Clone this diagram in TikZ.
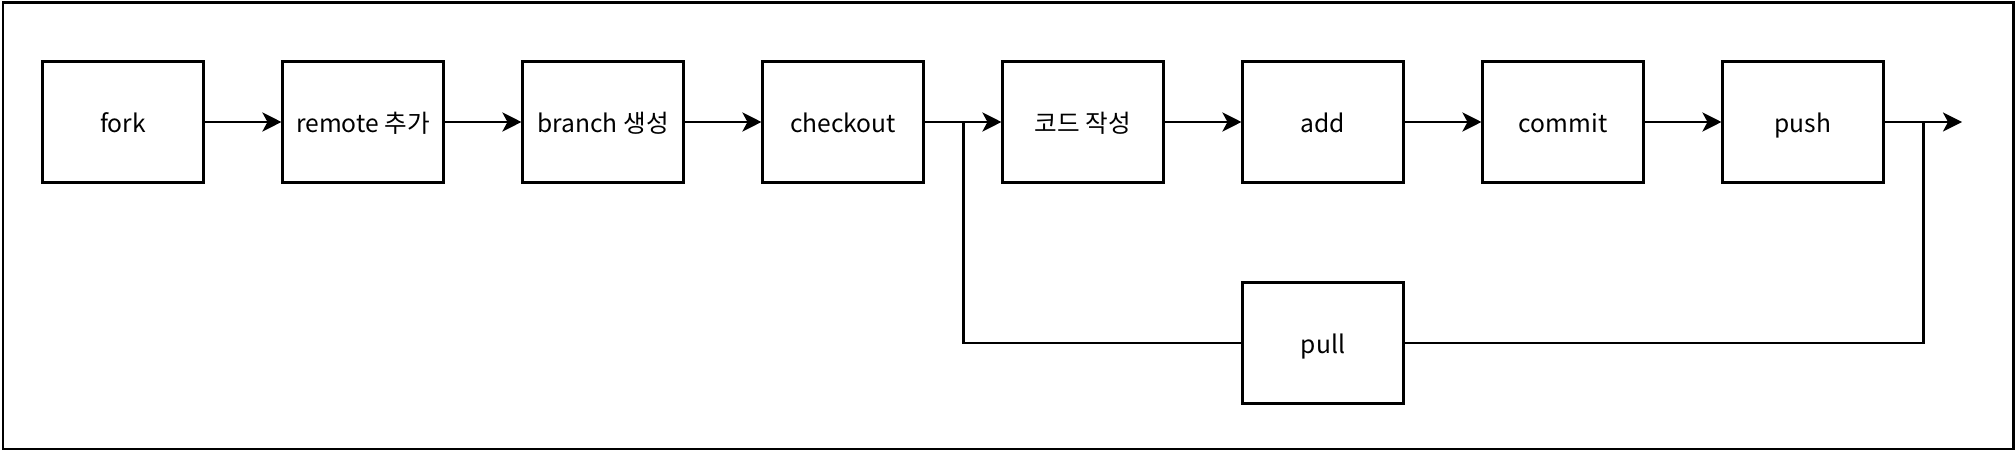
\documentclass[tikz,border=0pt]{standalone}
\usepackage{fontspec}
\setmainfont{Noto Sans CJK KR}
\usetikzlibrary{arrows.meta}

\tikzset{
    stepbox/.style={draw, line width=0.85pt, minimum width=1.6cm, minimum height=1.2cm, inner sep=0pt, text height=0.85em, text depth=0.25em, font=\fontsize{7}{9}\selectfont},
    flow/.style={line width=0.85pt, -{Stealth[length=0.19cm, width=0.19cm, inset=0.05cm]}},
    link/.style={line width=0.85pt}
}

\begin{document}
\begin{tikzpicture}[x=0.01cm, y=-0.01cm]
    \useasboundingbox (0,0) rectangle (2016,452);
    \draw[line width=0.85pt] (3,3) rectangle (2013,449);

    \node[stepbox] (fork) at (123,122) {fork};
    \node[stepbox] (remote) at (363,122) {remote 추가};
    \node[stepbox] (branch) at (603,122) {branch 생성};
    \node[stepbox] (checkout) at (843,122) {checkout};
    \node[stepbox] (code) at (1083,122) {코드 작성};
    \node[stepbox] (add) at (1323,122) {add};
    \node[stepbox] (commit) at (1563,122) {commit};
    \node[stepbox] (push) at (1803,122) {push};
    \node[stepbox] (pull) at (1323,343) {pull};

    \coordinate (split) at (963,122);
    \coordinate (merge) at (1923,122);
    \coordinate (done) at (1962,122);

    \draw[flow] (fork) -- (remote);
    \draw[flow] (remote) -- (branch);
    \draw[flow] (branch) -- (checkout);
    \draw[flow] (checkout) -- (code);
    \draw[flow] (code) -- (add);
    \draw[flow] (add) -- (commit);
    \draw[flow] (commit) -- (push);
    \draw[flow] (push) -- (done);

    % pull 경로
    \draw[link] (split) |- (pull.west);
    \draw[link] (pull.east) -| (merge);
\end{tikzpicture}
\end{document}
